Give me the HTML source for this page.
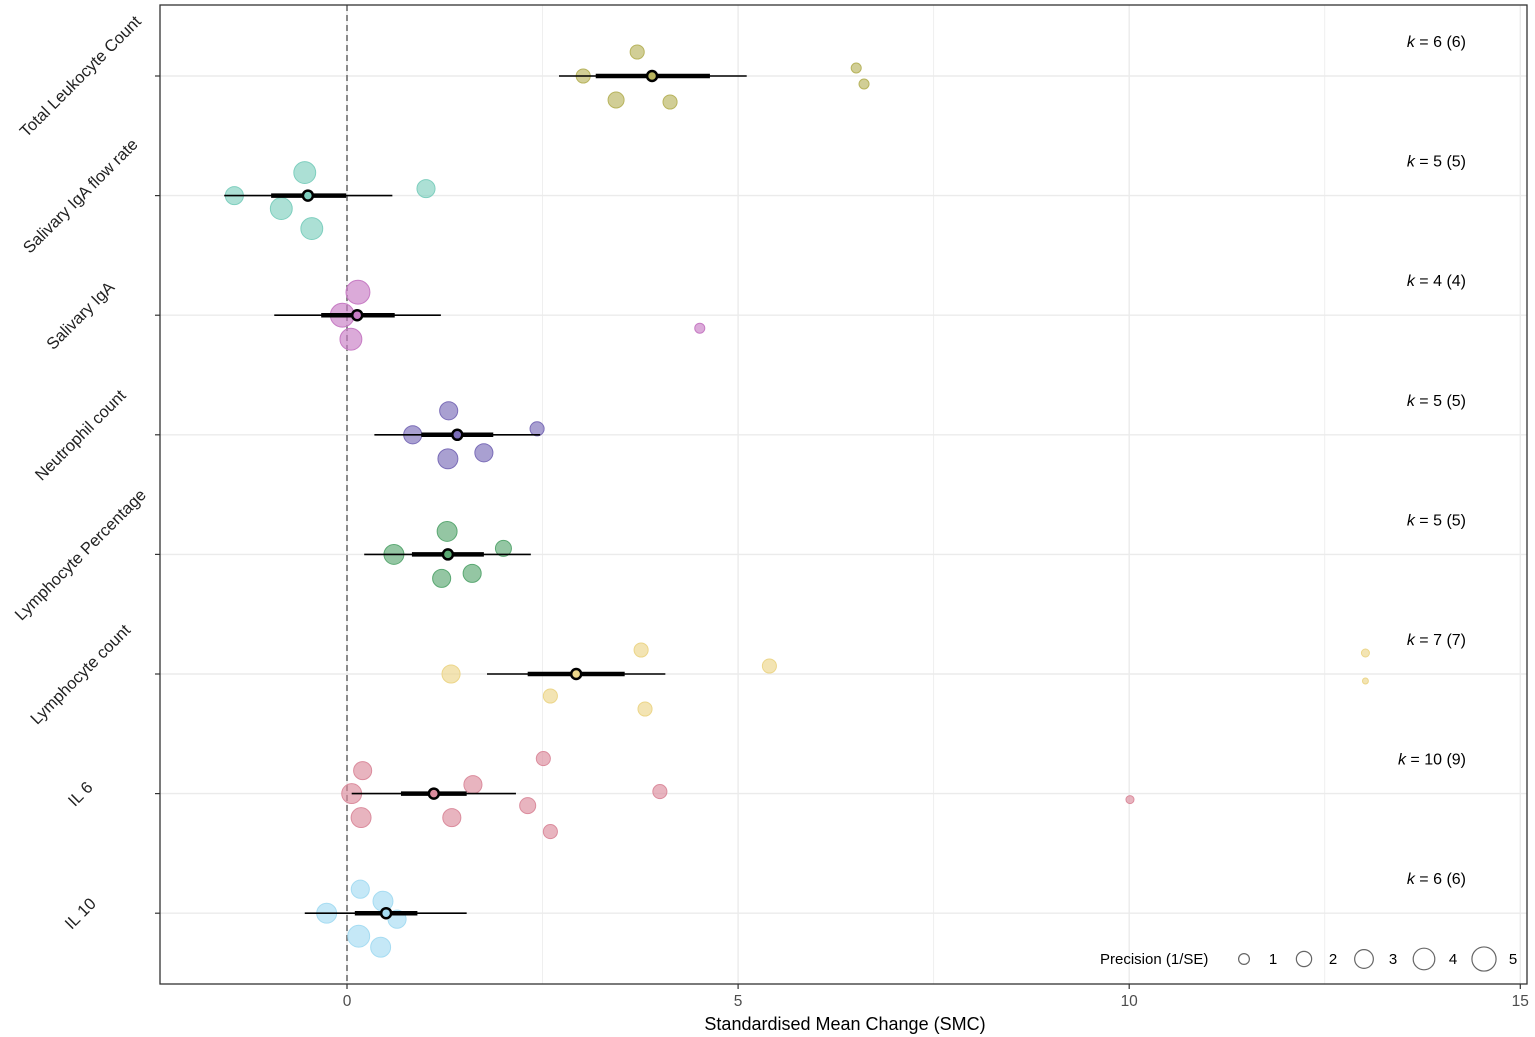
<!DOCTYPE html>
<html><head><meta charset="utf-8"><style>
body{margin:0;background:#fff;}
svg{display:block;font-family:"Liberation Sans",Arial,sans-serif;}
</style></head><body>
<svg id="c" width="1535" height="1037"></svg>
<script>
const categories=["Total Leukocyte Count","Salivary IgA flow rate","Salivary IgA","Neutrophil count","Lymphocyte Percentage","Lymphocyte count","IL 6","IL 10"];
const kLabels=["6 (6)","5 (5)","4 (4)","5 (5)","5 (5)","7 (7)","10 (9)","6 (6)"];
const colors=["#b8b45e","#7fcfbf","#c77cc4","#7b6db8","#5aa872","#ecd68a","#db8c9d","#a6dcf2"];
const estimates=[3.9,-0.5,0.13,1.41,1.29,2.93,1.11,0.5];
const ciLow=[3.18,-0.97,-0.33,0.95,0.83,2.31,0.69,0.1];
const ciHigh=[4.64,-0.01,0.61,1.87,1.75,3.55,1.53,0.9];
const piLow=[2.71,-1.57,-0.93,0.35,0.22,1.79,0.06,-0.54];
const piHigh=[5.11,0.58,1.2,2.47,2.35,4.07,2.16,1.53];
const studyValues=[
 [3.71,3.02,3.44,4.13,6.51,6.61],
 [-0.54,-1.44,-0.84,-0.45,1.01],
 [0.14,-0.06,0.05,4.51],
 [1.30,0.84,1.29,1.75,2.43],
 [1.28,0.6,1.21,1.6,2.0],
 [3.76,1.33,2.6,3.81,5.4,13.02,13.02],
 [0.2,0.06,0.18,1.34,1.61,2.31,2.51,2.6,4.0,10.01],
 [0.17,-0.26,0.15,0.46,0.64,0.43]];
const studyJitter=[
 [-24,0,24,26,-8,8],[-23,0,13,33,-7],[-23,0,24,13],[-24,0,24,18,-6],[-23,0,24,19,-6],
 [-24,0,22,35,-8,-21,7],[-23,0,24,24,-9,12,-35,38,-2,6],[-24,0,23,-12,6,34]];
const studyPrecision=[
 [1.7,1.7,2.2,1.7,0.86,0.86],[4.1,2.8,4.1,4.1,2.8],[4.9,4.9,4.1,0.86],[2.8,2.8,3.4,2.8,1.7],
 [3.4,3.4,2.8,2.8,2.2],[1.7,2.8,1.7,1.7,1.7,0.55,0.3],[2.8,3.4,3.4,2.8,2.8,2.2,1.7,1.7,1.7,0.55],
 [2.8,3.4,4.1,3.4,2.8,3.4]];
const xTicks=[0,5,10,15];
const legendPrec=[1,2,3,4,5];

const L=160,R=1527,T=5,B=984;
const x=v=>347+v*78.22;
const y=i=>76+i*119.6;
const rad=p=>5.4*Math.sqrt(p);
const svg=document.getElementById('c');
const NS='http://www.w3.org/2000/svg';
function mk(t,a,p){const e=document.createElementNS(NS,t);for(const k in a)e.setAttribute(k,a[k]);(p||svg).appendChild(e);return e;}
for(let v=0;v<=15;v+=2.5){const g=mk('line',{x1:x(v),x2:x(v),y1:T,y2:B,stroke:'#ebebeb','stroke-width':Number.isInteger(v/5)?1.4:0.8});

}
categories.forEach((c,i)=>{const g=mk('line',{x1:L,x2:R,y1:y(i),y2:y(i),stroke:'#ebebeb','stroke-width':1.4});

});
const zl=mk('line',{x1:x(0),x2:x(0),y1:T,y2:B,stroke:'#666','stroke-width':1.5,'stroke-dasharray':'6,4'});


categories.forEach((c,i)=>{
 const g=mk('g',{});
 
 
 studyValues[i].forEach((v,j)=>{const e=mk('circle',{cx:x(v),cy:y(i)+studyJitter[i][j],r:rad(studyPrecision[i][j]),fill:colors[i],'fill-opacity':0.65,stroke:colors[i],'stroke-width':1},g);
  
  });
 const pi=mk('line',{x1:x(piLow[i]),x2:x(piHigh[i]),y1:y(i),y2:y(i),stroke:'#000','stroke-width':1.6},g);
 
 
 const ci=mk('line',{x1:x(ciLow[i]),x2:x(ciHigh[i]),y1:y(i),y2:y(i),stroke:'#000','stroke-width':4.5},g);
 
 
 const es=mk('circle',{cx:x(estimates[i]),cy:y(i),r:5,fill:colors[i],stroke:'#000','stroke-width':2.5},g);
 
 
 const kt=mk('text',{x:1466,y:y(i)-29,'text-anchor':'end','font-size':16,fill:'#000'},g);
 kt.innerHTML='<tspan font-style="italic">k</tspan> = '+kLabels[i];
 
 
 const tk=mk('line',{x1:L-5,x2:L,y1:y(i),y2:y(i),stroke:'#333','stroke-width':1.2});
 
 
 const lb=mk('text',{x:0,y:6,'text-anchor':'middle','font-size':16.5,fill:'#222',transform:`translate(80,${y(i)}) rotate(-45)`});
 lb.textContent=c;
 
 
});
const fr=mk('rect',{x:L,y:T,width:R-L,height:B-T,fill:'none',stroke:'#333','stroke-width':1.3});


xTicks.forEach(v=>{const t=mk('line',{x1:x(v),x2:x(v),y1:B,y2:B+5,stroke:'#333','stroke-width':1.2});
 
 
 const l=mk('text',{x:x(v),y:B+22,'text-anchor':'middle','font-size':15.5,fill:'#4d4d4d'});l.textContent=v;
 
 });
const xt=mk('text',{x:845,y:1030,'text-anchor':'middle','font-size':18,fill:'#000'});xt.textContent='Standardised Mean Change (SMC)';


const lg=mk('g',{});


const lt=mk('text',{x:1100,y:964,'font-size':15,fill:'#000'},lg);lt.textContent='Precision (1/SE)';


const lcx=[1244,1304,1364,1424,1484];
legendPrec.forEach((p,j)=>{const e=mk('circle',{cx:lcx[j],cy:959,r:rad(p),fill:'none',stroke:'#666','stroke-width':1.2},lg);
 
 
 const t=mk('text',{x:lcx[j]+29,y:964,'text-anchor':'middle','font-size':15,fill:'#000'},lg);t.textContent=p;
 
 });
</script>
</body></html>
